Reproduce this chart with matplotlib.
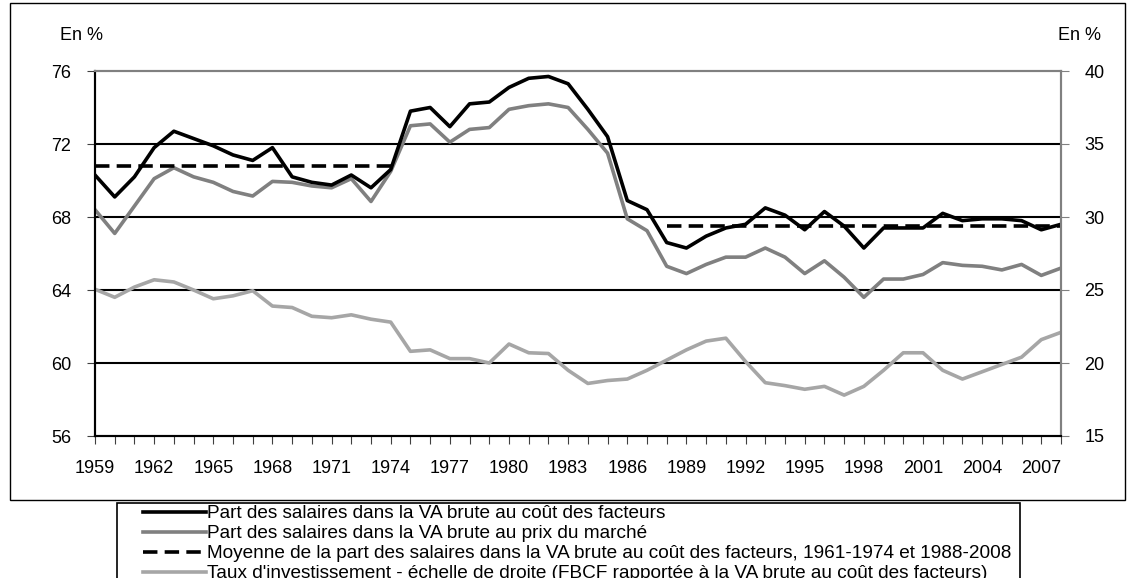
import numpy as np
import matplotlib
matplotlib.use('Agg')
import matplotlib.pyplot as plt
from matplotlib.patches import Rectangle

plt.rcParams['font.family'] = ['Liberation Sans', 'DejaVu Sans']

years = list(range(1959, 2009))

# part des salaires, VA brute au cout des facteurs (%)
part_facteurs = [70.3, 69.1, 70.2, 71.8, 72.7, 72.3, 71.9, 71.4, 71.1, 71.8,
                 70.2, 69.9, 69.75, 70.3, 69.6, 70.6, 73.8, 74.0, 72.95, 74.2,
                 74.3, 75.1, 75.6, 75.7, 75.3, 73.9, 72.4, 68.9, 68.4, 66.6,
                 66.3, 66.95, 67.4, 67.6, 68.5, 68.1, 67.3, 68.3, 67.5, 66.3,
                 67.4, 67.4, 67.4, 68.2, 67.8, 67.9, 67.9, 67.8, 67.3, 67.6]

# part des salaires, VA brute au prix du marche (%)
part_marche = [68.4, 67.1, 68.6, 70.1, 70.7, 70.2, 69.9, 69.4, 69.15, 69.95,
               69.9, 69.7, 69.6, 70.1, 68.85, 70.5, 73.0, 73.1, 72.1, 72.8,
               72.9, 73.9, 74.1, 74.2, 74.0, 72.8, 71.5, 67.9, 67.25, 65.3,
               64.9, 65.4, 65.8, 65.8, 66.3, 65.8, 64.9, 65.6, 64.7, 63.6,
               64.6, 64.6, 64.85, 65.5, 65.35, 65.3, 65.1, 65.4, 64.8, 65.2]

# moyennes par periode
moy_annees_1 = [1959, 1974]
moy_val_1 = [70.8, 70.8]
moy_annees_2 = [1988, 2008]
moy_val_2 = [67.5, 67.5]

# taux d'investissement, echelle de droite (%)
taux_invest = [25.05, 24.5, 25.2, 25.7, 25.55, 25.0, 24.4, 24.6, 24.95, 23.9,
               23.8, 23.2, 23.1, 23.3, 23.0, 22.8, 20.8, 20.9, 20.3, 20.3,
               20.0, 21.3, 20.7, 20.65, 19.5, 18.6, 18.8, 18.9, 19.5, 20.2,
               20.9, 21.5, 21.7, 20.1, 18.65, 18.45, 18.2, 18.4, 17.8, 18.4,
               19.5, 20.7, 20.7, 19.5, 18.9, 19.4, 19.9, 20.4, 21.6, 22.1]

labels = ['Part des salaires dans la VA brute au coût des facteurs',
          'Part des salaires dans la VA brute au prix du marché',
          'Moyenne de la part des salaires dans la VA brute au coût des facteurs, 1961-1974 et 1988-2008',
          "Taux d'investissement - échelle de droite (FBCF rapportée à la VA brute au coût des facteurs)"]

W, H = 1134, 578
fs = 13
fig = plt.figure(figsize=(W / 100, H / 100), dpi=100)

# cadre exterieur + cadre de legende
fig.patches.append(Rectangle((10 / W, 1 - 500 / H), 1115 / W, 497 / H,
                             transform=fig.transFigure, fill=False,
                             edgecolor='black', linewidth=1.0))
fig.patches.append(Rectangle((117 / W, -0.2), (1020 - 117) / W, 0.2 + 1 - 503 / H,
                             transform=fig.transFigure, fill=False,
                             edgecolor='black', linewidth=1.2))

ax = fig.add_axes([95 / W, 1 - 436 / H, (1061 - 95) / W, (436 - 71) / H])
ax2 = ax.twinx()

lw = 2.6
dash = (0, (4, 2))
ax.plot(years, part_facteurs, color='black', linewidth=lw, zorder=4)
ax.plot(years, part_marche, color='#808080', linewidth=lw, zorder=3)
ax.plot(moy_annees_1, moy_val_1, color='black', linewidth=lw, linestyle=dash, zorder=5)
ax.plot(moy_annees_2, moy_val_2, color='black', linewidth=lw, linestyle=dash, zorder=5)
ax2.plot(years, taux_invest, color='#a6a6a6', linewidth=lw)

ax.set_xlim(1959, 2008)
ax.set_ylim(56, 76)
ax2.set_ylim(15, 40)
ax.set_yticks([56, 60, 64, 68, 72, 76])
ax2.set_yticks([15, 20, 25, 30, 35, 40])
ax.set_xticks(list(range(1959, 2008, 3)))
ax.set_xticks(years, minor=True)

for y in [60, 64, 68, 72]:
    ax.axhline(y, color='black', linewidth=1.5, zorder=1)

ax.tick_params(axis='x', which='both', direction='out', length=6, width=0.8,
               labelsize=fs, pad=11, color='#404040')
ax.tick_params(axis='y', direction='out', length=6, width=0.8, labelsize=fs,
               pad=11, color='#404040')
ax2.tick_params(axis='y', direction='out', length=6, width=0.8, labelsize=fs,
                pad=11, color='#808080')

for a in (ax, ax2):
    a.spines['left'].set_color('black')
    a.spines['bottom'].set_color('black')
    a.spines['left'].set_linewidth(1.5)
    a.spines['bottom'].set_linewidth(1.5)
    a.spines['top'].set_color('#808080')
    a.spines['right'].set_color('#808080')
    a.spines['top'].set_linewidth(1.5)
    a.spines['right'].set_linewidth(1.5)

fig.text(60 / W, 1 - 35 / H, 'En %', fontsize=fs, ha='left', va='center')
fig.text(1058 / W, 1 - 35 / H, 'En %', fontsize=fs, ha='left', va='center')

h1, = ax.plot([], [], color='black', linewidth=lw)
h2, = ax.plot([], [], color='#808080', linewidth=lw)
h3, = ax.plot([], [], color='black', linewidth=lw, linestyle=dash)
h4, = ax.plot([], [], color='#a6a6a6', linewidth=lw)
leg = fig.legend([h1, h2, h3, h4], labels, loc='upper left',
                 bbox_to_anchor=(143 / W, 1 - 505 / H), borderaxespad=0,
                 fontsize=13.7, frameon=False, handlelength=3.3,
                 handletextpad=0.08, labelspacing=0.14, borderpad=0)

fig.savefig('out.png', dpi=100)
